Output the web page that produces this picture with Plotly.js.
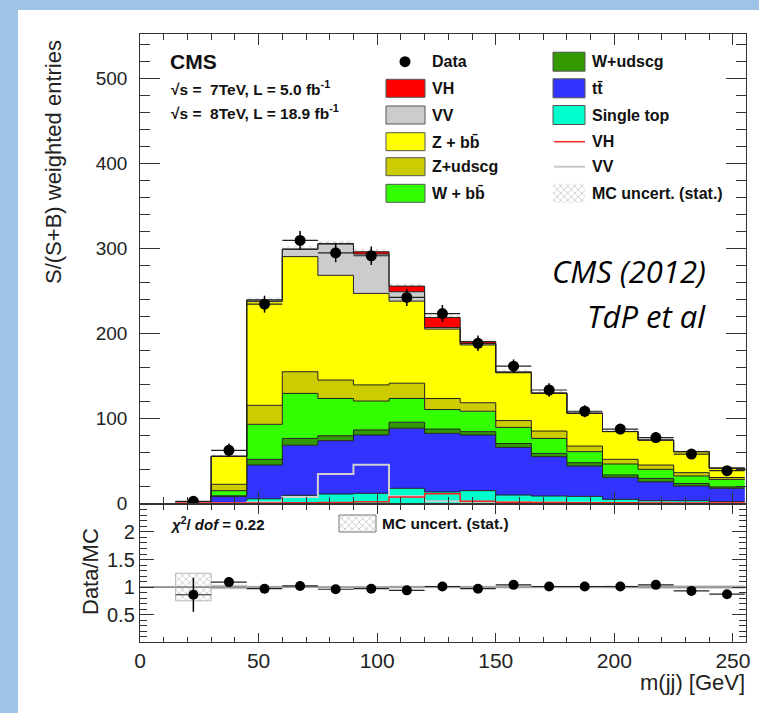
<!DOCTYPE html>
<html><head><meta charset="utf-8">
<script src="https://cdn.plot.ly/plotly-3.0.1.min.js"></script>
<style>
html,body{margin:0;padding:0;background:#9dc3e6;width:759px;height:713px;overflow:hidden;}
#chart{position:absolute;left:18px;top:10px;width:741px;height:703px;background:#fff;}
</style></head><body><div id="chart"></div>
<script>
// ---- data ----
const binEdges = [15,30,45,60,75,90,105,120,135,150,165,180,195,210,225,240,255];
const singleTop = [0, 0.5, 5, 9, 10.6, 11.4, 17.3, 13, 14.5, 9.4, 8.2, 7.8, 4.3, 2.7, 2.7, 1.6];
const ttbar     = [0.3, 7, 39.7, 59, 62.7, 68.6, 70.7, 69, 65.5, 56.1, 46.3, 35.7, 25.9, 22.3, 17.3, 15.7];
const wUdscg    = [0, 1, 6.7, 8, 5.9, 6, 7, 5, 4, 4.5, 3.9, 3.9, 2.8, 4, 3, 1.7];
const wBB       = [0.2, 6, 41.2, 53, 43.8, 34, 28, 23, 24, 19, 17.6, 13, 12.9, 10.6, 8.8, 8.8];
const zUdscg    = [0.3, 7.5, 22.4, 25.5, 21.7, 19, 18, 13, 10, 8, 8.7, 6.6, 5.5, 5.1, 3.9, 2.2];
const zBB       = [0.7, 33, 122, 135.5, 123.3, 107.7, 96.6, 81.7, 68, 56.3, 44.3, 38.5, 32.6, 29.3, 24.7, 11];
const vvStack   = [0, 0, 2, 8.5, 36.7, 46.3, 11, 1.8, 1.5, 0.5, 0.3, 0.2, 0.1, 0.1, 0, 0];
const vhStack   = [0, 0, 0, 0.5, 0.8, 2.7, 6.7, 11.9, 2.5, 0.5, 0.2, 0.1, 0.1, 0, 0, 0];
const vvLine    = [0, 0, 1, 7, 34, 45, 8, 2, 1.5, 1, 0.5, 0.3, 0.2, 0.2, 0.1, 0.1];
const vhLine    = [0, 0, 0, 0.3, 0.5, 1.5, 7, 11, 2, 1, 0.5, 0.3, 0.2, 0.1, 0.1, 0.1];
const mcUnc     = [1, 2, 3, 3.5, 3.5, 3.5, 3, 3, 3, 2.5, 2.5, 2, 2, 2, 2, 2];
const dataVals  = [2, 62, 234, 309, 294.5, 291, 242, 223, 188, 161, 133, 108, 87, 77, 57.6, 38];
const dataErr   = [2, 8, 10, 11, 11, 11, 10, 10, 9, 8, 8, 7, 6, 6, 5, 4];
const ratioVals = [0.86, 1.09, 0.97, 1.02, 0.96, 0.97, 0.94, 1.01, 0.97, 1.04, 1.01, 1.01, 1.01, 1.04, 0.93, 0.87];
const ratioErr  = [0.31, 0.05, 0.03, 0.03, 0.03, 0.03, 0.03, 0.03, 0.03, 0.03, 0.03, 0.03, 0.04, 0.04, 0.04, 0.05];
const ratioUnc  = [0.25, 0.03, 0.012, 0.01, 0.01, 0.01, 0.015, 0.012, 0.012, 0.015, 0.012, 0.012, 0.015, 0.02, 0.02, 0.02];
const legendLeft  = ['Data', 'VH', 'VV', 'Z + bb\u0304', 'Z+udscg', 'W + bb\u0304'];
const legendRight = ['W+udscg', 'tt\u0304', 'Single top', 'VH', 'VV', 'MC uncert. (stat.)'];

// ---- derived ----
const centers = binEdges.slice(0,-1).map((e,i)=>(e+binEdges[i+1])/2);
const halfW = binEdges.slice(0,-1).map((e,i)=>(binEdges[i+1]-e)/2);
const widths = halfW.map(h=>2*h);
const stepY = v => v.concat([v[v.length-1]]);
const stacks = [
  ['Single top', singleTop, '#00ffcc'],
  ['ttbar', ttbar, '#3333ff'],
  ['W+udscg', wUdscg, '#339900'],
  ['W+bb', wBB, '#33ff00'],
  ['Z+udscg', zUdscg, '#cccc00'],
  ['Z+bb', zBB, '#ffff00'],
  ['VV', vvStack, '#cccccc'],
  ['VH', vhStack, '#ff0000']
];
const totals = centers.map((c,i)=>stacks.reduce((s,st)=>s+st[1][i],0));

const FONT = 'Liberation Sans, Arial, Helvetica, sans-serif';
const traces = [];
stacks.forEach(([name, vals, col])=>{
  traces.push({type:'scatter', mode:'lines', name:name, x:binEdges, y:stepY(vals),
    stackgroup:'mc', line:{shape:'hv', color:'#222', width:1}, fillcolor:col,
    xaxis:'x', yaxis:'y', showlegend:false, hoverinfo:'skip'});
});
const hatch = {shape:'x', fgcolor:'#8a8a8a', bgcolor:'rgba(0,0,0,0)', size:5, solidity:0.15, fillmode:'replace'};
traces.push({type:'bar', x:centers, y:mcUnc.map(u=>2*u), base:totals.map((t,i)=>t-mcUnc[i]), width:widths,
  marker:{color:'rgba(0,0,0,0)', line:{width:0}, pattern:hatch}, xaxis:'x', yaxis:'y', showlegend:false, hoverinfo:'skip'});
traces.push({type:'scatter', mode:'lines', x:binEdges, y:stepY(vvLine), line:{shape:'hv', color:'#d0d0d0', width:2},
  xaxis:'x', yaxis:'y', showlegend:false, hoverinfo:'skip'});
traces.push({type:'scatter', mode:'lines', x:binEdges, y:stepY(vhLine), line:{shape:'hv', color:'#ff2020', width:1.5},
  xaxis:'x', yaxis:'y', showlegend:false, hoverinfo:'skip'});
traces.push({type:'scatter', mode:'markers', x:centers, y:dataVals,
  error_y:{type:'data', array:dataErr, color:'#000', thickness:1.5, width:0},
  error_x:{type:'data', array:halfW, color:'#222', thickness:1.2, width:0},
  marker:{color:'#000', size:11}, xaxis:'x', yaxis:'y', showlegend:false, hoverinfo:'skip'});

// ratio panel
traces.push({type:'bar', x:centers, y:ratioUnc.map(u=>2*u), base:ratioUnc.map(u=>1-u), width:widths,
  marker:{color:'rgba(0,0,0,0)', line:{width:0.8, color:'#aaa'}, pattern:hatch}, xaxis:'x2', yaxis:'y2', showlegend:false, hoverinfo:'skip'});
traces.push({type:'scatter', mode:'markers', x:centers, y:ratioVals,
  error_y:{type:'data', array:ratioErr, color:'#000', thickness:1.5, width:0},
  error_x:{type:'data', array:halfW, color:'#222', thickness:1.2, width:0},
  marker:{color:'#000', size:10}, xaxis:'x2', yaxis:'y2', showlegend:false, hoverinfo:'skip'});

// ---- legend swatches on a pixel-space overlay axis (x3/y3) ----
const rows = [61.7, 88.3, 115, 141.7, 166.7, 193.3];
const rectXY = (x0,x1,y0,y1)=>({x:[x0,x1,x1,x0,x0], y:[y0,y0,y1,y1,y0]});
traces.push({type:'scatter', mode:'markers', x:[405], y:[rows[0]], marker:{color:'#000', size:11},
  xaxis:'x3', yaxis:'y3', showlegend:false, hoverinfo:'skip'});
const hb1 = rectXY(553,585,rows[5]-9.5,rows[5]+9.5);
traces.push(Object.assign({type:'scatter', mode:'lines', fill:'toself', fillcolor:'rgba(0,0,0,0)', fillpattern:hatch,
  line:{width:0, color:'rgba(0,0,0,0)'}, xaxis:'x3', yaxis:'y3', showlegend:false, hoverinfo:'skip'}, hb1));
const hb2 = rectXY(339,376,515,532);
traces.push(Object.assign({type:'scatter', mode:'lines', fill:'toself', fillcolor:'rgba(0,0,0,0)', fillpattern:hatch,
  line:{width:1, color:'#777'}, xaxis:'x3', yaxis:'y3', showlegend:false, hoverinfo:'skip'}, hb2));

const shapes = [];
const leftCols = ['#ff0000','#cccccc','#ffff00','#cccc00','#33ff00'];
leftCols.forEach((c,i)=>shapes.push({type:'rect', xref:'x3', yref:'y3', x0:386, x1:425, y0:rows[i+1]-9, y1:rows[i+1]+9,
  fillcolor:c, line:{color:'#555', width:1}}));
const rightCols = ['#339900','#3333ff','#00ffcc'];
rightCols.forEach((c,i)=>shapes.push({type:'rect', xref:'x3', yref:'y3', x0:553, x1:585, y0:rows[i]-9.5, y1:rows[i]+9.5,
  fillcolor:c, line:{color:'#555', width:1}}));
shapes.push({type:'line', xref:'x3', yref:'y3', x0:554, x1:585, y0:rows[3], y1:rows[3], line:{color:'#ff2020', width:1.5}});
shapes.push({type:'line', xref:'x3', yref:'y3', x0:554, x1:585, y0:rows[4], y1:rows[4], line:{color:'#c8c8c8', width:2}});
// reference line at ratio = 1
shapes.push({type:'line', xref:'x2 domain', yref:'y2', x0:0, x1:1, y0:1, y1:1, line:{color:'#333', width:1}, layer:'below'});

// ---- text ----
const ML=122, MT=24, PW=606, PH=608, OX=18, OY=10;
const P = (X,Y)=>({x:(X-OX-ML)/PW, y:1-(Y-OY-MT)/PH});
const ann = [];
function txt(text, X, Y, opts){
  const p = P(X,Y);
  ann.push(Object.assign({xref:'paper', yref:'paper', x:p.x, y:p.y, text:text, showarrow:false,
    xanchor:'left', yanchor:'middle', font:{family:FONT, size:16, color:'#111'}}, opts||{}));
}
legendLeft.forEach((t,i)=>txt('<b>'+t+'</b>', 430, rows[i]));
legendRight.forEach((t,i)=>txt('<b>'+t+'</b>', 590, rows[i]));
txt('<b>CMS</b>', 168, 61, {font:{family:FONT, size:21, color:'#111'}});
txt('<b>√s =  7TeV, L = 5.0 fb<sup>-1</sup></b>', 169, 88, {font:{family:FONT, size:15.5, color:'#111'}});
txt('<b>√s =  8TeV, L = 18.9 fb<sup>-1</sup></b>', 169, 112, {font:{family:FONT, size:15.5, color:'#111'}});
txt('<b><i>χ</i><sup>2</sup>/ <i>dof</i> = 0.22</b>', 168, 523, {font:{family:FONT, size:15, color:'#111'}});
txt('<b>MC uncert. (stat.)</b>', 380, 523, {font:{family:FONT, size:15.5, color:'#111'}});
txt('<i>CMS (2012)</i>', 708, 271, {xanchor:'right', font:{family:'Open Sans, sans-serif', size:31, color:'#000'}});
txt('<i>TdP et al</i>', 708, 316, {xanchor:'right', font:{family:'Open Sans, sans-serif', size:31, color:'#000'}});
txt('m(jj) [GeV]', 747, 682, {xanchor:'right', font:{family:FONT, size:22, color:'#222'}});
txt('S/(S+B) weighted entries', 53, 162, {xanchor:'center', textangle:-90, font:{family:FONT, size:22, color:'#222'}});
txt('Data/MC', 90, 572, {xanchor:'center', textangle:-90, font:{family:FONT, size:22, color:'#222'}});

const axCommon = {showline:true, linecolor:'#333', linewidth:1.2, mirror:'allticks', ticks:'inside',
  tickcolor:'#333', tickwidth:1, showgrid:false, zeroline:false, fixedrange:true,
  tickfont:{family:FONT, size:20, color:'#222'}};
const layout = {
  width:741, height:703, margin:{l:ML, r:741-ML-PW, t:MT, b:703-MT-PH},
  paper_bgcolor:'#ffffff', plot_bgcolor:'rgba(0,0,0,0)', showlegend:false, barmode:'overlay',
  xaxis: Object.assign({}, axCommon, {domain:[0,1], anchor:'y', range:[0,255.5], tick0:0, dtick:50, ticklen:11,
    showticklabels:false, minor:{ticks:'inside', ticklen:6, dtick:10, tick0:0, tickcolor:'#333'}}),
  yaxis: Object.assign({}, axCommon, {domain:[(642-503)/608,1], anchor:'x', range:[0,552], tick0:0, dtick:100, ticklen:20,
    ticksuffix:'\u2009\u2009', tickfont:{family:FONT, size:19, color:'#222'},
    minor:{ticks:'inside', ticklen:10, dtick:20, tick0:0, tickcolor:'#333'}}),
  xaxis2: Object.assign({}, axCommon, {domain:[0,1], anchor:'y2', range:[0,255.5], tick0:0, dtick:50, ticklen:9,
    tickfont:{family:FONT, size:21, color:'#222'},
    minor:{ticks:'inside', ticklen:5, dtick:10, tick0:0, tickcolor:'#333'}}),
  yaxis2: Object.assign({}, axCommon, {domain:[0,(642-505)/608], anchor:'x2', range:[0.002,2.49], tick0:0, dtick:0.5, ticklen:14,
    minor:{ticks:'inside', ticklen:7, dtick:0.1, tick0:0, tickcolor:'#333'}}),
  xaxis3: {domain:[0,1], anchor:'y3', range:[140,746], visible:false, fixedrange:true},
  yaxis3: {domain:[0,1], anchor:'x3', range:[642,34], visible:false, fixedrange:true},
  shapes: shapes, annotations: ann
};
Plotly.newPlot('chart', traces, layout, {staticPlot:true, displayModeBar:false});
</script></body></html>
